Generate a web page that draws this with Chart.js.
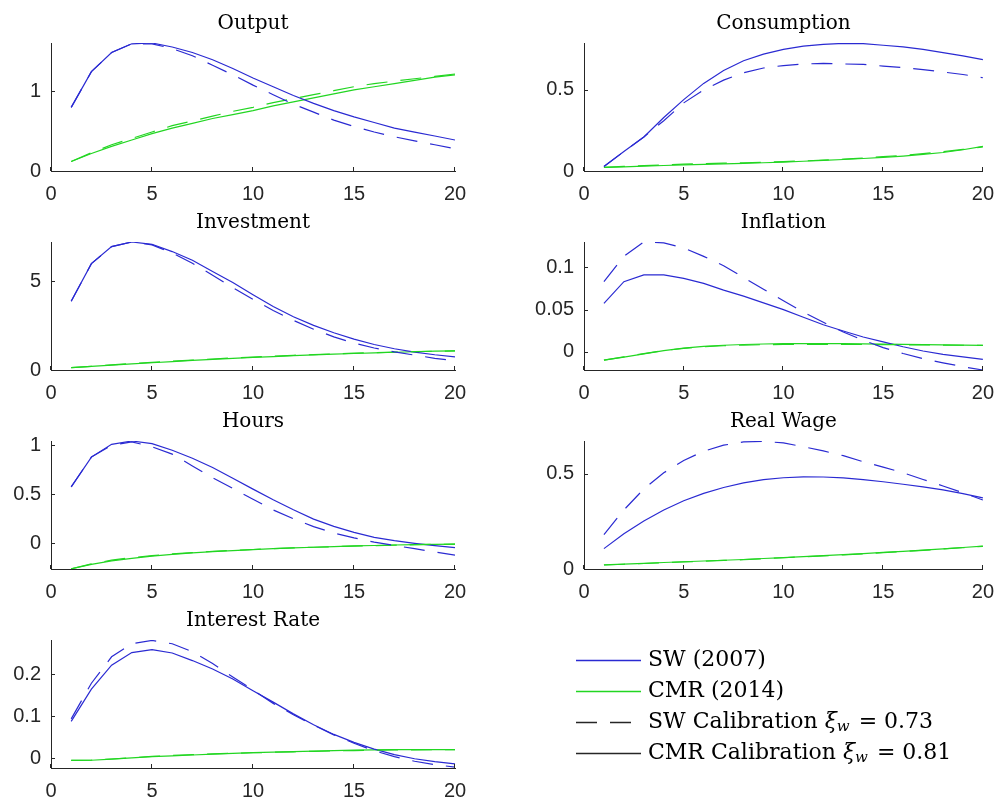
<!DOCTYPE html>
<html lang="en">
<head>
<meta charset="UTF-8">
<title>Impulse responses</title>
<script src="https://cdn.jsdelivr.net/npm/chart.js@4"></script>
<style>
body { margin: 0; background: #fff; }
#fig { position: relative; width: 1005px; height: 803px; overflow: hidden; }
</style>
</head>
<body>
<div id="fig"></div>
<script>
// horizon (quarters) and axis ticks
const periods = [1, 2, 3, 4, 5, 6, 7, 8, 9, 10, 11, 12, 13, 14, 15, 16, 17, 18, 19, 20];
const xTicks = [0, 5, 10, 15, 20];

// SW = SW (2007) model (blue), CMR = CMR (2014) model (green)
// ...Cmr = CMR calibration (solid), ...Sw = SW calibration (dashed)
const outputSWCmr = [0.80, 1.25, 1.49, 1.60, 1.61, 1.56, 1.49, 1.40, 1.29, 1.17, 1.06, 0.95, 0.85, 0.76, 0.68, 0.61, 0.54, 0.49, 0.44, 0.39];
const outputSWSw = [0.80, 1.25, 1.49, 1.60, 1.60, 1.54, 1.45, 1.33, 1.21, 1.08, 0.96, 0.84, 0.74, 0.64, 0.56, 0.49, 0.43, 0.38, 0.33, 0.28];
const outputCMRCmr = [0.12, 0.22, 0.31, 0.39, 0.47, 0.54, 0.60, 0.66, 0.71, 0.76, 0.82, 0.87, 0.92, 0.97, 1.02, 1.06, 1.10, 1.14, 1.18, 1.21];
const outputCMRSw = [0.12, 0.23, 0.33, 0.41, 0.49, 0.57, 0.63, 0.69, 0.75, 0.80, 0.86, 0.91, 0.96, 1.01, 1.06, 1.10, 1.13, 1.16, 1.19, 1.22];
const outputTicks = [0, 1];

const consSWCmr = [0.028, 0.12, 0.21, 0.33, 0.44, 0.54, 0.62, 0.68, 0.72, 0.75, 0.77, 0.78, 0.787, 0.785, 0.775, 0.765, 0.75, 0.73, 0.71, 0.687];
const consSWSw = [0.028, 0.12, 0.21, 0.31, 0.42, 0.50, 0.56, 0.606, 0.635, 0.65, 0.66, 0.663, 0.66, 0.657, 0.647, 0.637, 0.625, 0.61, 0.595, 0.575];
const consCMRCmr = [0.022, 0.026, 0.030, 0.034, 0.038, 0.041, 0.044, 0.047, 0.051, 0.055, 0.060, 0.065, 0.071, 0.077, 0.084, 0.092, 0.102, 0.114, 0.131, 0.152];
const consCMRSw = [0.022, 0.028, 0.033, 0.038, 0.042, 0.045, 0.048, 0.051, 0.054, 0.058, 0.062, 0.067, 0.073, 0.080, 0.088, 0.097, 0.107, 0.119, 0.133, 0.149];
const consTicks = [0, 0.5];

const invSWCmr = [3.88, 6.0, 6.96, 7.22, 7.09, 6.68, 6.19, 5.56, 4.94, 4.25, 3.58, 3.0, 2.52, 2.10, 1.74, 1.44, 1.20, 1.01, 0.86, 0.74];
const invSWSw = [3.88, 6.0, 6.96, 7.22, 7.06, 6.60, 6.02, 5.35, 4.65, 3.98, 3.36, 2.80, 2.30, 1.87, 1.52, 1.24, 1.02, 0.84, 0.66, 0.52];
const invCMRCmr = [0.13, 0.20, 0.27, 0.34, 0.41, 0.47, 0.54, 0.60, 0.66, 0.71, 0.76, 0.81, 0.85, 0.89, 0.93, 0.97, 1.00, 1.03, 1.06, 1.08];
const invCMRSw = [0.13, 0.21, 0.29, 0.36, 0.43, 0.50, 0.56, 0.62, 0.68, 0.73, 0.78, 0.83, 0.87, 0.91, 0.95, 0.98, 1.01, 1.04, 1.06, 1.08];
const invTicks = [0, 5];

const inflSWCmr = [0.0574, 0.083, 0.091, 0.091, 0.087, 0.081, 0.073, 0.066, 0.058, 0.050, 0.041, 0.032, 0.0246, 0.0176, 0.0117, 0.006, 0.001, -0.003, -0.006, -0.009];
const inflSWSw = [0.083, 0.113, 0.130, 0.129, 0.123, 0.113, 0.102, 0.088, 0.074, 0.0605, 0.047, 0.035, 0.0234, 0.0137, 0.005, -0.002, -0.008, -0.013, -0.0176, -0.0215];
const inflCMRCmr = [-0.0098, -0.0062, -0.0025, 0.0015, 0.0045, 0.0065, 0.0078, 0.0087, 0.0093, 0.0096, 0.0097, 0.0097, 0.0096, 0.0094, 0.0092, 0.0089, 0.0086, 0.0083, 0.0080, 0.0077];
const inflCMRSw = [-0.0098, -0.0060, -0.0022, 0.0015, 0.0042, 0.0060, 0.0072, 0.0080, 0.0085, 0.0088, 0.0089, 0.0089, 0.0088, 0.0087, 0.0086, 0.0084, 0.0082, 0.0080, 0.0078, 0.0076];
const inflTicks = [0, 0.05, 0.1];

const hoursSWCmr = [0.576, 0.88, 1.01, 1.044, 1.017, 0.95, 0.868, 0.773, 0.664, 0.553, 0.444, 0.342, 0.247, 0.173, 0.112, 0.061, 0.027, 0.0, -0.024, -0.044];
const hoursSWSw = [0.576, 0.88, 1.0, 1.035, 0.985, 0.91, 0.79, 0.67, 0.56, 0.45, 0.34, 0.25, 0.17, 0.105, 0.055, 0.012, -0.022, -0.055, -0.088, -0.12];
const hoursCMRCmr = [-0.26, -0.215, -0.18, -0.153, -0.131, -0.113, -0.098, -0.085, -0.074, -0.064, -0.055, -0.047, -0.040, -0.033, -0.027, -0.022, -0.017, -0.013, -0.010, -0.008];
const hoursCMRSw = [-0.26, -0.21, -0.172, -0.146, -0.125, -0.108, -0.094, -0.082, -0.072, -0.063, -0.055, -0.047, -0.040, -0.034, -0.028, -0.023, -0.018, -0.014, -0.011, -0.009];
const hoursTicks = [0, 0.5, 1];

const wageSWCmr = [0.107, 0.185, 0.252, 0.31, 0.358, 0.397, 0.428, 0.452, 0.469, 0.479, 0.484, 0.483, 0.478, 0.469, 0.458, 0.445, 0.431, 0.415, 0.396, 0.373];
const wageSWSw = [0.181, 0.31, 0.42, 0.505, 0.57, 0.618, 0.65, 0.667, 0.67, 0.662, 0.642, 0.62, 0.595, 0.563, 0.535, 0.505, 0.47, 0.436, 0.40, 0.362];
const wageCMRCmr = [0.022, 0.026, 0.030, 0.034, 0.038, 0.042, 0.046, 0.050, 0.055, 0.060, 0.065, 0.070, 0.075, 0.081, 0.087, 0.093, 0.099, 0.106, 0.113, 0.120];
const wageCMRSw = [0.021, 0.025, 0.029, 0.033, 0.037, 0.041, 0.045, 0.049, 0.054, 0.059, 0.064, 0.069, 0.074, 0.080, 0.086, 0.092, 0.098, 0.105, 0.112, 0.119];
const wageTicks = [0, 0.5];

const rateSWCmr = [0.088, 0.165, 0.222, 0.252, 0.259, 0.251, 0.233, 0.213, 0.189, 0.161, 0.134, 0.106, 0.080, 0.057, 0.038, 0.022, 0.009, -0.001, -0.008, -0.013];
const rateSWSw = [0.094, 0.179, 0.242, 0.273, 0.281, 0.273, 0.254, 0.226, 0.194, 0.163, 0.131, 0.104, 0.079, 0.056, 0.036, 0.018, 0.004, -0.007, -0.015, -0.021];
const rateCMRCmr = [-0.005, -0.0045, -0.002, 0.001, 0.004, 0.006, 0.008, 0.010, 0.0118, 0.0134, 0.0148, 0.016, 0.0172, 0.0185, 0.0195, 0.0202, 0.0207, 0.021, 0.021, 0.021];
const rateCMRSw = [-0.005, -0.004, -0.0015, 0.0015, 0.0045, 0.0068, 0.0088, 0.0105, 0.012, 0.0133, 0.0145, 0.0156, 0.0167, 0.0177, 0.0186, 0.0194, 0.0200, 0.0204, 0.0207, 0.0209];
const rateTicks = [0, 0.1, 0.2];

const legendLabels = ['SW (2007)', 'CMR (2014)', 'SW Calibration ξ_w = 0.73', 'CMR Calibration ξ_w = 0.81'];

const BLUE = '#2a2ad2';
const GREEN = '#22d622';
const AXIS = '#262626';
const DASH = [21, 13];
const tickFont = { family: "'Liberation Sans', Arial, sans-serif", size: 20 };

const panels = [
  { title: 'Output', col: 0, row: 0, min: 0, max: 1.61, ticks: outputTicks, sets: [outputSWSw, outputCMRSw, outputSWCmr, outputCMRCmr] },
  { title: 'Consumption', col: 1, row: 0, min: 0, max: 0.789, ticks: consTicks, sets: [consSWSw, consCMRSw, consSWCmr, consCMRCmr] },
  { title: 'Investment', col: 0, row: 1, min: 0, max: 7.22, ticks: invTicks, sets: [invSWSw, invCMRSw, invSWCmr, invCMRCmr] },
  { title: 'Inflation', col: 1, row: 1, min: -0.0215, max: 0.130, ticks: inflTicks, sets: [inflSWSw, inflCMRSw, inflSWCmr, inflCMRCmr] },
  { title: 'Hours', col: 0, row: 2, min: -0.262, max: 1.044, ticks: hoursTicks, sets: [hoursSWSw, hoursCMRSw, hoursSWCmr, hoursCMRCmr] },
  { title: 'Real Wage', col: 1, row: 2, min: 0, max: 0.672, ticks: wageTicks, sets: [wageSWSw, wageCMRSw, wageSWCmr, wageCMRCmr] },
  { title: 'Interest Rate', col: 0, row: 3, min: -0.023, max: 0.282, ticks: rateTicks, sets: [rateSWSw, rateCMRSw, rateSWCmr, rateCMRCmr] }
];

// layout of the 4x2 grid
const colLeft = [0, 500];
const colWidth = [500, 505];
const yAxisWidth = [51, 84];
const rightPad = [45, 16];
const rowTop = [1, 200, 399, 598];
const panelHeight = 205;

const fig = document.getElementById('fig');

function makeCanvas(left, top, w, h) {
  const c = document.createElement('canvas');
  c.width = w;
  c.height = h;
  c.style.cssText = `position:absolute;left:${left}px;top:${top}px;width:${w}px;height:${h}px`;
  fig.appendChild(c);
  return c;
}

function series(values, color, dashed) {
  return {
    data: values.map((v, i) => ({ x: periods[i], y: v })),
    borderColor: color,
    borderWidth: 1.2,
    borderDash: dashed ? DASH : [],
    pointRadius: 0,
    tension: 0,
    fill: false
  };
}

// MATLAB-style tick marks pointing into the axes
const inwardTicks = {
  id: 'inwardTicks',
  afterDatasetsDraw(chart) {
    const { ctx, chartArea: a, scales: { x, y } } = chart;
    ctx.save();
    ctx.strokeStyle = AXIS;
    ctx.lineWidth = 1;
    ctx.beginPath();
    x.ticks.forEach(t => {
      const px = Math.round(x.getPixelForValue(t.value)) - 0.5;
      ctx.moveTo(px, a.bottom);
      ctx.lineTo(px, a.bottom - 4);
    });
    y.ticks.forEach(t => {
      const py = Math.round(y.getPixelForValue(t.value)) + 0.5;
      ctx.moveTo(a.left, py);
      ctx.lineTo(a.left + 4, py);
    });
    ctx.stroke();
    ctx.restore();
  }
};

panels.forEach(p => {
  const canvas = makeCanvas(colLeft[p.col], rowTop[p.row], colWidth[p.col], panelHeight);
  new Chart(canvas, {
    type: 'line',
    data: {
      datasets: [
        series(p.sets[0], BLUE, true),
        series(p.sets[1], GREEN, true),
        series(p.sets[2], BLUE, false),
        series(p.sets[3], GREEN, false)
      ]
    },
    options: {
      responsive: false,
      animation: false,
      devicePixelRatio: 1,
      events: [],
      layout: { autoPadding: false, padding: { left: 0, right: rightPad[p.col], top: 0, bottom: 0 } },
      plugins: {
        legend: { display: false },
        tooltip: { enabled: false },
        title: {
          display: true,
          text: p.title,
          fullSize: false,
          color: '#000',
          font: { family: "'DejaVu Serif', serif", size: 20, weight: 'normal' },
          padding: { top: 11, bottom: 7 }
        }
      },
      scales: {
        x: {
          type: 'linear',
          min: 0,
          max: 20,
          afterBuildTicks: s => { s.ticks = xTicks.map(v => ({ value: v })); },
          afterFit: s => { s.height = 35; },
          grid: { display: true, color: 'transparent', drawTicks: false },
          border: { display: true, color: AXIS, width: 1 },
          ticks: { font: tickFont, color: AXIS, padding: 11, maxRotation: 0, callback: v => String(v) }
        },
        y: {
          type: 'linear',
          min: p.min,
          max: p.max,
          afterBuildTicks: s => { s.ticks = p.ticks.map(v => ({ value: v })); },
          afterFit: s => { s.width = yAxisWidth[p.col]; },
          grid: { display: true, color: 'transparent', drawTicks: false },
          border: { display: true, color: AXIS, width: 1 },
          ticks: { font: tickFont, color: AXIS, padding: 10, callback: v => String(v) }
        }
      }
    },
    plugins: [inwardTicks]
  });
});

// legend in the empty bottom-right cell, drawn with line samples and a ξ_w subscript
const lineLegend = {
  id: 'lineLegend',
  afterDraw(chart, args, opts) {
    const ctx = chart.ctx;
    const serif = "'DejaVu Serif', serif";
    chart.data.datasets.forEach((ds, i) => {
      const y = opts.top + i * opts.rowGap;
      ctx.save();
      ctx.strokeStyle = ds.borderColor;
      ctx.lineWidth = ds.borderWidth;
      ctx.setLineDash(ds.borderDash);
      ctx.beginPath();
      ctx.moveTo(opts.left, y + 0.5);
      ctx.lineTo(opts.left + opts.sample, y + 0.5);
      ctx.stroke();
      ctx.setLineDash([]);

      ctx.fillStyle = '#000';
      ctx.textBaseline = 'middle';
      ctx.textAlign = 'left';
      let x = opts.left + opts.sample + opts.gap;
      const parts = ds.label.split('ξ_w');
      ctx.font = `${opts.size}px ${serif}`;
      ctx.fillText(parts[0], x, y);
      x += ctx.measureText(parts[0]).width;
      if (parts.length > 1) {
        ctx.font = `italic ${opts.size}px ${serif}`;
        ctx.fillText('ξ', x, y);
        x += ctx.measureText('ξ').width;
        ctx.font = `italic ${Math.round(opts.size * 0.7)}px ${serif}`;
        ctx.fillText('w', x, y + 5);
        x += ctx.measureText('w').width + 2;
        ctx.font = `${opts.size}px ${serif}`;
        ctx.fillText(parts[1], x, y);
      }
      ctx.restore();
    });
  }
};

const legendCanvas = makeCanvas(540, 630, 465, 150);
new Chart(legendCanvas, {
  type: 'line',
  data: {
    datasets: [
      { label: legendLabels[0], data: [], borderColor: BLUE, borderWidth: 1.5, borderDash: [] },
      { label: legendLabels[1], data: [], borderColor: GREEN, borderWidth: 1.5, borderDash: [] },
      { label: legendLabels[2], data: [], borderColor: AXIS, borderWidth: 1.3, borderDash: DASH },
      { label: legendLabels[3], data: [], borderColor: AXIS, borderWidth: 1.3, borderDash: [] }
    ]
  },
  options: {
    responsive: false,
    animation: false,
    devicePixelRatio: 1,
    events: [],
    scales: { x: { display: false }, y: { display: false } },
    plugins: {
      legend: { display: false },
      tooltip: { enabled: false },
      lineLegend: { left: 36, top: 30, rowGap: 31, sample: 65, gap: 7, size: 22 }
    }
  },
  plugins: [lineLegend]
});
</script>
</body>
</html>
